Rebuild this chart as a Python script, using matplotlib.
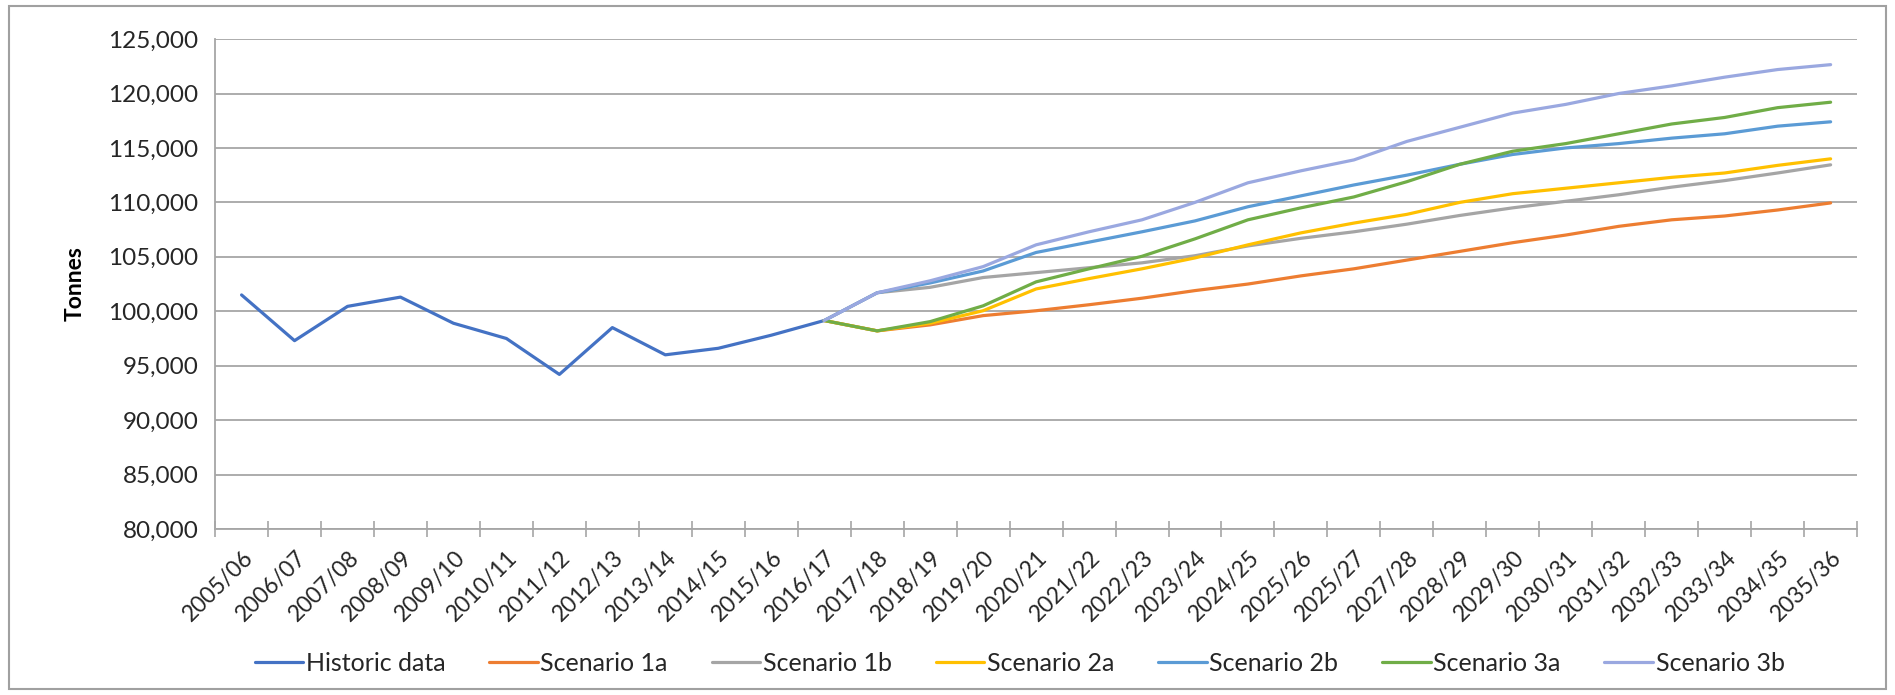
import matplotlib
matplotlib.use("Agg")
import matplotlib.pyplot as plt
import matplotlib.transforms as mtransforms
from matplotlib.patches import Rectangle
from matplotlib.ticker import FuncFormatter, FixedLocator
import numpy as np

# anos (o rótulo "2025/27" fica como está na planilha de origem)
anos = ['2005/06', '2006/07', '2007/08', '2008/09', '2009/10', '2010/11',
        '2011/12', '2012/13', '2013/14', '2014/15', '2015/16', '2016/17',
        '2017/18', '2018/19', '2019/20', '2020/21', '2021/22', '2022/23',
        '2023/24', '2024/25', '2025/26', '2025/27', '2027/28', '2028/29',
        '2029/30', '2030/31', '2031/32', '2032/33', '2033/34', '2034/35',
        '2035/36']

# dados históricos até 2016/17
historico = [101500, 97300, 100450, 101300, 98900, 97500, 94200, 98500,
             96000, 96600, 97800, 99150]

# cenários a partir de 2016/17
cenario_1a = [99150, 98200, 98750, 99600, 100050, 100600, 101200, 101900,
              102500, 103250, 103900, 104700, 105500, 106300, 107000, 107800,
              108400, 108750, 109300, 109950]
cenario_1b = [99150, 101700, 102200, 103100, 103550, 104000, 104450, 105100,
              106000, 106700, 107300, 108000, 108800, 109500, 110100, 110700,
              111400, 112000, 112700, 113450]
cenario_2a = [99150, 98200, 98900, 100050, 102050, 103000, 103900, 104900,
              106100, 107200, 108100, 108900, 110000, 110800, 111300, 111800,
              112300, 112700, 113400, 114000]
cenario_2b = [99150, 101700, 102600, 103700, 105400, 106350, 107300, 108300,
              109600, 110600, 111600, 112500, 113500, 114400, 115000, 115400,
              115900, 116300, 117000, 117400]
cenario_3a = [99150, 98200, 99050, 100500, 102700, 103900, 105050, 106650,
              108400, 109500, 110500, 111900, 113500, 114700, 115400, 116300,
              117200, 117800, 118700, 119200]
cenario_3b = [99150, 101700, 102800, 104100, 106100, 107300, 108400, 110000,
              111800, 112900, 113900, 115600, 116900, 118200, 119000, 120000,
              120700, 121500, 122200, 122650]

series = [
    ('Historic data', historico, '#4472C4'),
    ('Scenario 1a', cenario_1a, '#ED7D31'),
    ('Scenario 1b', cenario_1b, '#A5A5A5'),
    ('Scenario 2a', cenario_2a, '#FFC000'),
    ('Scenario 2b', cenario_2b, '#5B9BD5'),
    ('Scenario 3a', cenario_3a, '#70AD47'),
    ('Scenario 3b', cenario_3b, '#9AA8E0'),
]

plt.rcParams['font.family'] = ['Lato', 'DejaVu Sans']
cor_texto = '#262626'
cor_grade = '#A6A6A6'

fig = plt.figure(figsize=(18.95, 6.95), dpi=100)
ax = fig.add_axes([0.1135, 0.2388, 0.8665, 0.705])

x = np.arange(len(anos))
inicio = len(historico) - 1
for nome, valores, cor in series:
    if nome == 'Historic data':
        xs = x[:len(valores)]
    else:
        xs = x[inicio:inicio + len(valores)]
    ax.plot(xs, valores, color=cor, lw=2.3, label=nome, solid_capstyle='round')

ax.set_xlim(-0.5, len(anos) - 0.5)
ax.set_ylim(80000, 125000)
ax.set_yticks(range(80000, 125001, 5000))
ax.yaxis.set_major_formatter(FuncFormatter(lambda v, p: f'{int(v):,}'))
ax.grid(axis='y', color=cor_grade, lw=1.3)
ax.set_axisbelow(True)

ax.set_xticks(x)
ax.set_xticklabels(anos, rotation=45, ha='right', va='center',
                   rotation_mode='anchor')
ax.xaxis.set_minor_locator(FixedLocator(np.arange(-0.5, len(anos), 1.0)))
ax.tick_params(axis='x', which='major', length=0, pad=18, labelsize=16.5,
               labelcolor=cor_texto)
ax.tick_params(axis='x', which='minor', length=12, direction='inout',
               color=cor_grade, width=1.2)
ax.tick_params(axis='y', length=0, pad=12, labelsize=17.5, labelcolor=cor_texto)

# empurra os rótulos inclinados um pouco para a direita
desloca = mtransforms.ScaledTranslation(8 / 100, 0, fig.dpi_scale_trans)
for rotulo in ax.get_xticklabels():
    rotulo.set_transform(rotulo.get_transform() + desloca)

for lado in ['top', 'right']:
    ax.spines[lado].set_visible(False)
ax.spines['left'].set_color(cor_grade)
ax.spines['bottom'].set_color(cor_grade)
ax.spines['left'].set_linewidth(1.3)
ax.spines['bottom'].set_linewidth(1.3)

ax.set_ylabel('Tonnes', fontsize=16.5, fontweight='bold', color='black')
ax.yaxis.set_label_coords(-0.079, 0.5)

fig.legend(loc='center', bbox_to_anchor=(0.538, 0.046), ncol=7,
           frameon=False, fontsize=18, handlelength=1.95, handletextpad=0.1,
           columnspacing=1.75, labelcolor=cor_texto)

# moldura da área do gráfico
fig.patches.append(Rectangle((0.005, 0.008), 0.99, 0.984, transform=fig.transFigure,
                             fill=False, edgecolor='#A0A0A0', lw=1.5))

fig.savefig('out.png', dpi=100, facecolor='white')
